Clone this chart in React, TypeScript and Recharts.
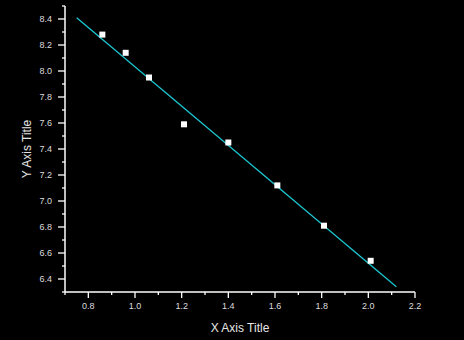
import React from 'react';
import { ComposedChart, Scatter, Line, XAxis, YAxis } from 'recharts';

// measured points
const xValues = [0.86, 0.96, 1.06, 1.21, 1.4, 1.61, 1.81, 2.01];
const yValues = [8.28, 8.14, 7.95, 7.59, 7.45, 7.12, 6.81, 6.54];

// linear fit drawn as a straight segment
const fitX = [0.75, 2.12];
const fitY = [8.41, 6.34];

const xTicks = [0.7, 0.8, 0.9, 1.0, 1.1, 1.2, 1.3, 1.4, 1.5, 1.6, 1.7, 1.8, 1.9, 2.0, 2.1, 2.2];
const yTicks = [6.3, 6.4, 6.5, 6.6, 6.7, 6.8, 6.9, 7.0, 7.1, 7.2, 7.3, 7.4, 7.5, 7.6, 7.7, 7.8, 7.9, 8.0, 8.1, 8.2, 8.3, 8.4, 8.5];

const points = xValues.map((x, i) => ({ x, y: yValues[i] }));
const fitLine = fitX.map((x, i) => ({ x, y: fitY[i] }));

const isMajor = (v: number) => Math.round(v * 10) % 2 === 0;

if (typeof document !== 'undefined') document.body.style.margin = '0';

const XTick = (props: any) => {
  const { x, y, payload } = props;
  const major = isMajor(payload.value);
  return (
    <g>
      <line x1={x} y1={y - 8} x2={x} y2={y - 8 + (major ? 6 : 3)} stroke="#fff" strokeWidth={1.3} />
      {major && (
        <text x={x} y={y + 9} textAnchor="middle" fill="#ddd" fontSize={9} fontFamily="Liberation Sans, Arial, sans-serif">
          {payload.value.toFixed(1)}
        </text>
      )}
    </g>
  );
};

const YTick = (props: any) => {
  const { x, y, payload } = props;
  const major = isMajor(payload.value);
  return (
    <g>
      <line x1={x + 8} y1={y} x2={x + 8 - (major ? 7 : 3)} y2={y} stroke="#fff" strokeWidth={1.3} />
      {major && (
        <text x={x - 5} y={y + 3} textAnchor="end" fill="#ddd" fontSize={9} fontFamily="Liberation Sans, Arial, sans-serif">
          {payload.value.toFixed(1)}
        </text>
      )}
    </g>
  );
};

const Square = (props: any) => {
  const { cx, cy } = props;
  return <rect x={cx - 3} y={cy - 3} width={6} height={6} fill="#fff" />;
};

export default function App() {
  return (
    <div style={{ width: 464, height: 340, background: '#000', position: 'relative' }}>
      <ComposedChart width={464} height={340} margin={{ top: 6, right: 49, bottom: 18, left: 25 }}>
        <XAxis
          type="number"
          dataKey="x"
          domain={[0.7, 2.2]}
          ticks={xTicks}
          interval={0}
          allowDataOverflow
          height={30}
          axisLine={{ stroke: '#fff', strokeWidth: 1.5 }}
          tickLine={false}
          tick={<XTick />}
          label={{ value: 'X Axis Title', position: 'insideBottom', offset: -10, fill: '#e6e6e6', fontSize: 12, fontFamily: 'Liberation Sans, Arial, sans-serif' }}
        />
        <YAxis
          type="number"
          dataKey="y"
          domain={[6.3, 8.5]}
          ticks={yTicks}
          interval={0}
          allowDataOverflow
          width={40}
          axisLine={{ stroke: '#fff', strokeWidth: 1.5 }}
          tickLine={false}
          tick={<YTick />}
          label={{ value: 'Y Axis Title', angle: -90, position: 'insideLeft', offset: 2, fill: '#e6e6e6', fontSize: 12, fontFamily: 'Liberation Sans, Arial, sans-serif', style: { textAnchor: 'middle' } }}
        />
        <Line data={fitLine} dataKey="y" stroke="#1ac6d0" strokeWidth={1.3} dot={false} isAnimationActive={false} />
        <Scatter data={points} dataKey="y" shape={<Square />} isAnimationActive={false} />
      </ComposedChart>
    </div>
  );
}
